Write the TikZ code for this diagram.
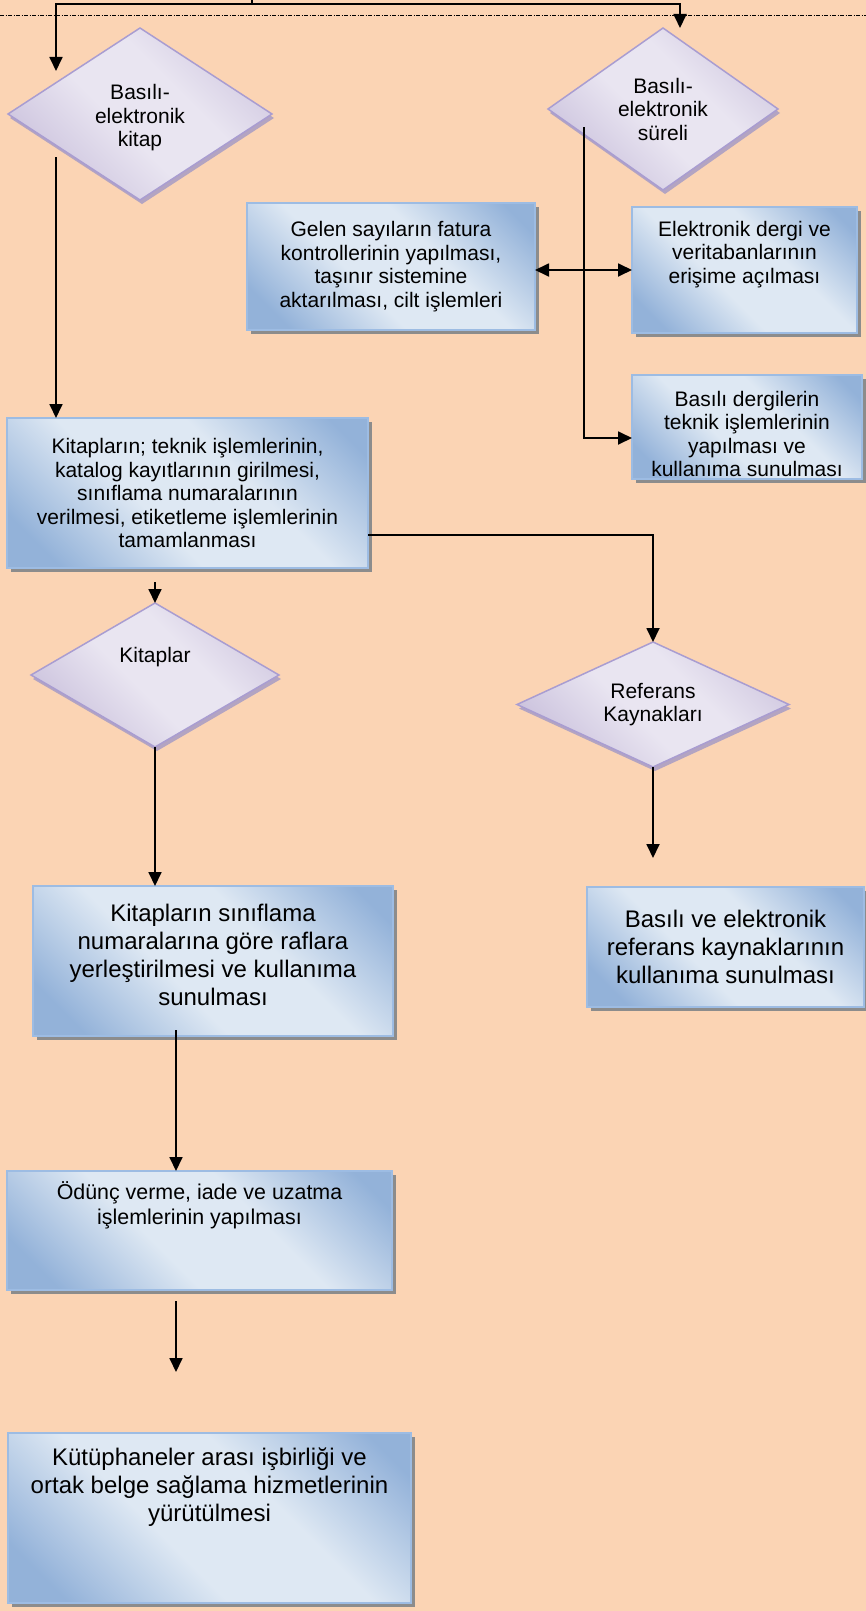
\documentclass[tikz,border=0pt]{standalone}
\usepackage{fontspec}
\setmainfont{Liberation Sans}
\usetikzlibrary{shapes.geometric,arrows.meta,shadows,calc}

\definecolor{bgpeach}{HTML}{FBD4B4}
\definecolor{boxlight}{HTML}{DEE8F3}
\definecolor{boxdark}{HTML}{93B2D9}
\definecolor{boxedge}{HTML}{9DBCE3}
\definecolor{boxshadow}{HTML}{8C8C8C}
\definecolor{dialight}{HTML}{E9E5F1}
\definecolor{diadark}{HTML}{CBC2DD}
\definecolor{diaedge}{HTML}{A99DD1}
\definecolor{diashadow}{HTML}{B3A4C2}

\pgfdeclarehorizontalshading{boxshade}{100bp}{color(0bp)=(boxdark); color(22bp)=(boxdark); color(42bp)=(boxlight); color(60bp)=(boxlight); color(80bp)=(boxdark); color(100bp)=(boxdark)}
\pgfdeclarehorizontalshading{diashade}{100bp}{color(0bp)=(diadark); color(25bp)=(diadark); color(45bp)=(dialight); color(60bp)=(dialight); color(80bp)=(diadark); color(100bp)=(diadark)}

\newcommand{\fsnormal}{\fontsize{21pt}{23.5pt}\selectfont}
\newcommand{\fsmid}{\fontsize{21.4pt}{25pt}\selectfont}
\newcommand{\fslarge}{\fontsize{24pt}{28pt}\selectfont}

\tikzset{
  procbox/.style={rectangle, draw=boxedge, line width=1.5pt, shading=boxshade, shading angle=45,
    align=center, inner sep=0pt, outer sep=0pt, font=\fsnormal,
    drop shadow={shadow xshift=4pt, shadow yshift=-4pt, fill=boxshadow, opacity=1}},
  choice/.style={diamond, aspect=2, draw=diaedge, line width=1.5pt, shading=diashade, shading angle=45,
    align=center, inner sep=0pt, outer sep=0pt, font=\fsnormal,
    drop shadow={shadow xshift=2pt, shadow yshift=-4pt, fill=diashadow, opacity=1}},
  flowline/.style={line width=1.8pt},
  arr/.style={flowline, -{Triangle[length=14pt,width=13pt]}},
  darr/.style={flowline, {Triangle[length=14pt,width=13pt]}-{Triangle[length=14pt,width=13pt]}},
  sepline/.style={line width=0.9pt, dash pattern=on 4pt off 1.5pt on 1pt off 1.5pt},
}

\begin{document}
\begin{tikzpicture}[x=1pt,y=-1pt]
\useasboundingbox (0,0) rectangle (866,1611);
\fill[bgpeach] (0,0) rectangle (866,1611);

% separator and incoming lines
\coordinate (sepL) at (0,15.7);
\coordinate (sepR) at (866,15.7);
\draw[sepline] (sepL) -- (sepR);
\coordinate (tick) at (252,0);
\coordinate (topL) at (56,4);
\coordinate (topR) at (680,4);

% decisions
\node[choice, minimum width=264pt, minimum height=172pt, text height=70pt] (dkitap) at (140,114) {Basılı-\\elektronik\\kitap};
\node[choice, minimum width=230pt, minimum height=162pt] (dsureli) at (663,109) {Basılı-\\elektronik\\süreli};
\node[choice, minimum width=248pt, minimum height=144pt, text depth=40pt] (dkitaplar) at (155,675) {Kitaplar};
\node[choice, minimum width=272pt, minimum height=125pt] (dreferans) at (653,704.5) {Referans\\Kaynakları};

% process boxes
\node[procbox, minimum width=288pt, minimum height=127pt] (bfatura) at (391,266.5)
  {Gelen sayıların fatura\\kontrollerinin yapılması,\\taşınır sistemine\\aktarılması, cilt işlemleri};
\node[procbox, minimum width=225pt, minimum height=126pt, text depth=36pt] (bedergi) at (744.5,270)
  {Elektronik dergi ve\\veritabanlarının\\erişime açılması};
\node[procbox, minimum width=230pt, minimum height=104pt, text height=100pt] (bbdergi) at (747,427)
  {Basılı dergilerin\\teknik işlemlerinin\\yapılması ve\\kullanıma sunulması};
\node[procbox, minimum width=361pt, minimum height=150pt] (bteknik) at (187.5,493)
  {Kitapların; teknik işlemlerinin,\\katalog kayıtlarının girilmesi,\\sınıflama numaralarının\\verilmesi, etiketleme işlemlerinin\\tamamlanması};
\node[procbox, font=\fslarge, minimum width=360pt, minimum height=150pt, text depth=12pt] (braf) at (213,961)
  {Kitapların sınıflama\\numaralarına göre raflara\\yerleştirilmesi ve kullanıma\\sunulması};
\node[procbox, font=\fslarge, minimum width=277pt, minimum height=120pt] (brefkay) at (725.5,947)
  {Basılı ve elektronik\\referans kaynaklarının\\kullanıma sunulması};
\node[procbox, font=\fsmid, minimum width=385pt, minimum height=119pt, text depth=54pt] (bodunc) at (199.5,1230.5)
  {Ödünç verme, iade ve uzatma\\işlemlerinin yapılması};
\node[procbox, font=\fslarge, minimum width=403pt, minimum height=170pt, text depth=66pt] (bisbirligi) at (209.5,1518)
  {Kütüphaneler arası işbirliği ve\\ortak belge sağlama hizmetlerinin\\yürütülmesi};

% connectors
\draw[arr] (tick) |- (topL) -- (topL |- dkitap.north west);
\draw[arr] (tick |- topR) -- (topR) -- (topR |- dsureli.north);
\draw[arr] (dkitap.south west -| topL) -- (topL |- bteknik.north);
\coordinate (sv) at ([xshift=36pt,yshift=-18pt]dsureli.west);
\draw[arr] (sv) |- ([yshift=-11pt]bbdergi.west);
\draw[darr] (bedergi.west -| bfatura.east) -- (bedergi.west);
\draw[arr] ([yshift=-42pt]bteknik.east) -| (dreferans.north);
\draw[arr] ($(bteknik.south -| dkitaplar.north)+(0,14)$) -- (dkitaplar.north);
\draw[arr] (dkitaplar.south) -- (dkitaplar.south |- braf.north);
\draw[arr] (dreferans.south) -- ($(dreferans.south |- brefkay.north)+(0,-29)$);
\coordinate (rafout) at ($(braf.south)+(-37,-6)$);
\draw[arr] (rafout) -- (rafout |- bodunc.north);
\coordinate (oduncout) at ($(bodunc.south)+(-23.5,11)$);
\draw[arr] (oduncout) -- ($(oduncout |- bisbirligi.north)+(0,-61)$);
\end{tikzpicture}
\end{document}
